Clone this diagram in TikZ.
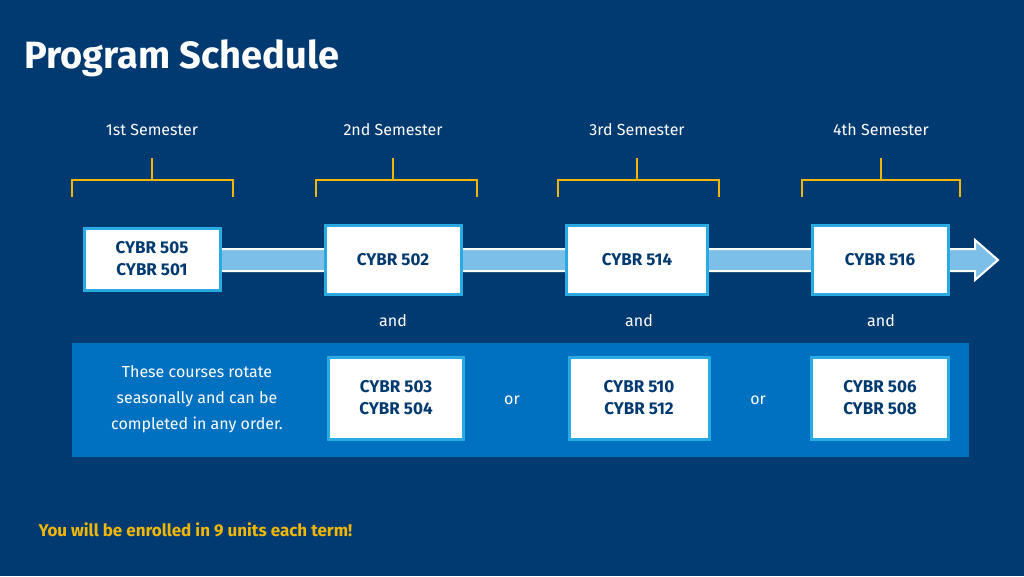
\documentclass[tikz,border=0pt]{standalone}
\usepackage{fontspec}
\setmainfont{Fira Sans}
\usetikzlibrary{positioning, calc}
\definecolor{NavyBg}{HTML}{003A70}
\definecolor{BandBlue}{HTML}{0070C0}
\definecolor{EdgeBlue}{HTML}{2AAAE2}
\definecolor{FlowBlue}{HTML}{7CBFE8}
\definecolor{GoldLine}{HTML}{F2B705}
\begin{document}
\begin{tikzpicture}[x=1pt, y=-1pt,
    course/.style={rectangle, draw=EdgeBlue, line width=3pt, fill=white, text=NavyBg,
                   font=\fontsize{17}{22}\selectfont\bfseries, align=center, inner sep=0pt},
    sem/.style={text=white, font=\fontsize{16}{18}\selectfont},
    conj/.style={text=white, font=\fontsize{16}{18}\selectfont},
    brace/.style={GoldLine, line width=2.5pt}
]
    % Background
    \fill[NavyBg] (0,0) rectangle (1024,576);
    \useasboundingbox (0,0) rectangle (1024,576);
    \node[anchor=west, text=white, font=\fontsize{38}{44}\selectfont\bfseries] (title) at (21,58) {Program Schedule};

    % Lower band
    \fill[BandBlue] (72,343) rectangle (969,457);

    % Timeline arrow
    \coordinate (tip) at (998,260);
    \fill[FlowBlue, draw=white, line width=2pt] (200,249) -- (975,249) -- (975,240) -- (tip) -- (975,280) -- (975,271) -- (200,271) -- cycle;

    % Semester row
    \foreach \x/\n/\txt/\l/\r in {152/1/1st/72/233, 393/2/2nd/316/477, 637/3/3rd/558/719, 881/4/4th/802/960} {
        \node[sem] (sem\n) at (\x,130) {\txt\ Semester};
        \draw[brace] (\l,197) -- (\l,180) -- (\r,180) -- (\r,197);
        \draw[brace] (\x,180) -- (\x,158);
    }

    % Core courses
    \node[course, minimum width=136pt, minimum height=62pt] (c1) at (152,259) {CYBR 505\\CYBR 501};
    \node[course, minimum width=136pt, minimum height=69pt] (c2) at (393,260) {CYBR 502};
    \node[course, minimum width=141pt, minimum height=69pt] (c3) at (637,260) {CYBR 514};
    \node[course, minimum width=136pt, minimum height=69pt] (c4) at (880,260) {CYBR 516};

    \node[conj] (and2) at (393,321) {and};
    \node[conj] (and3) at (639,321) {and};
    \node[conj] (and4) at (881,321) {and};

    % Rotating courses
    \node[text=white, align=center, font=\fontsize{16}{26}\selectfont] (note) at (197,399)
        {These courses rotate\\seasonally and can be\\completed in any order.};
    \node[course, minimum width=135pt, minimum height=82pt] (e2) at (396,398) {CYBR 503\\CYBR 504};
    \node[course, minimum width=140pt, minimum height=82pt] (e3) at (639,398) {CYBR 510\\CYBR 512};
    \node[course, minimum width=137pt, minimum height=82pt] (e4) at (880,398) {CYBR 506\\CYBR 508};
    \node[conj] (or1) at (512,400) {or};
    \node[conj] (or2) at (758,400) {or};

    % Footer
    \node[anchor=west, text=GoldLine, font=\fontsize{17}{20}\selectfont\bfseries] (units) at (35,530)
        {You will be enrolled in 9 units each term!};
\end{tikzpicture}
\end{document}
